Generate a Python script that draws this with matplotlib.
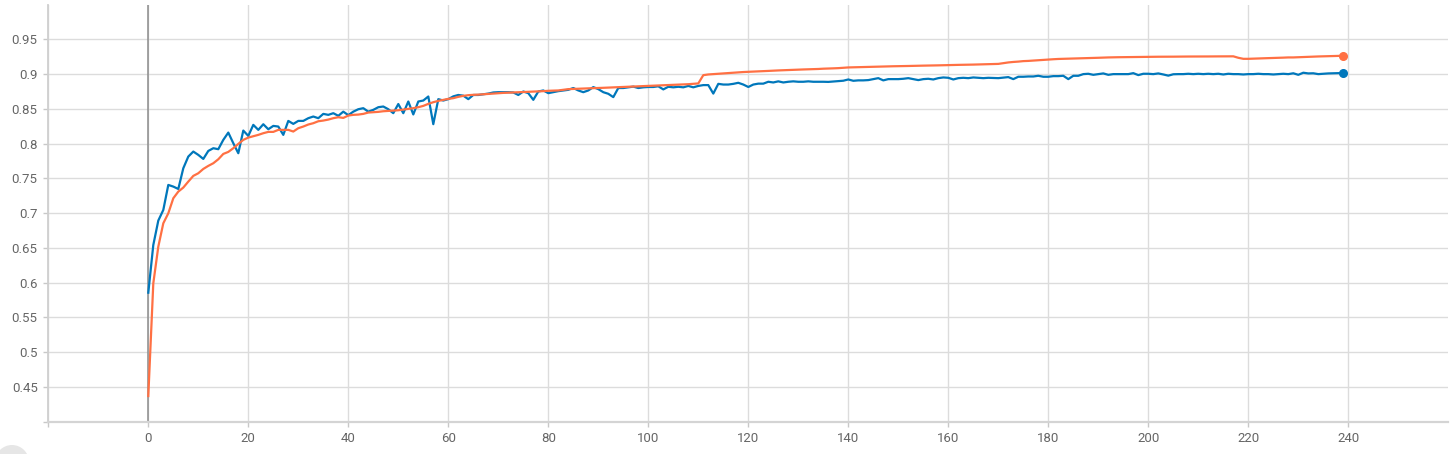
import matplotlib
matplotlib.use("Agg")
import matplotlib.pyplot as plt
from matplotlib.patches import Ellipse

epochs = list(range(240))

blue_values = [
    0.5856, 0.6542, 0.6893, 0.7046, 0.7406, 0.7382, 0.7348, 0.7646, 0.7814, 0.7886,
    0.7838, 0.778, 0.7895, 0.7934, 0.792, 0.8054, 0.8159, 0.8006, 0.7862, 0.8188,
    0.8111, 0.827, 0.8198, 0.8279, 0.8207, 0.8255, 0.8246, 0.8126, 0.8327, 0.8284,
    0.8327, 0.8327, 0.8366, 0.839, 0.8366, 0.8428, 0.8414, 0.8438, 0.840, 0.846,
    0.841, 0.846, 0.8495, 0.851, 0.846, 0.8486, 0.8524, 0.8534, 0.8495, 0.8438,
    0.857, 0.8438, 0.8606, 0.842, 0.8606, 0.862, 0.8678, 0.828, 0.864, 0.862,
    0.864, 0.868, 0.870, 0.869, 0.864, 0.870, 0.870, 0.871, 0.872, 0.8736,
    0.874, 0.874, 0.874, 0.8736, 0.870, 0.875, 0.8726, 0.863, 0.875, 0.8765,
    0.8726, 0.874, 0.8755, 0.8765, 0.8774, 0.880, 0.8765, 0.874, 0.8765, 0.8813,
    0.8784, 0.874, 0.8717, 0.8669, 0.880, 0.880, 0.881, 0.882, 0.880, 0.881,
    0.8815, 0.8815, 0.8825, 0.878, 0.8818, 0.881, 0.8818, 0.881, 0.883, 0.881,
    0.883, 0.8842, 0.8842, 0.872, 0.886, 0.885, 0.885, 0.886, 0.8875, 0.885,
    0.8815, 0.885, 0.8863, 0.8863, 0.889, 0.888, 0.8896, 0.888, 0.889, 0.8896,
    0.889, 0.889, 0.8896, 0.889, 0.889, 0.889, 0.8888, 0.8894, 0.890, 0.8905,
    0.8923, 0.8904, 0.891, 0.891, 0.8914, 0.8928, 0.8942, 0.891, 0.8928, 0.8928,
    0.8928, 0.8933, 0.8942, 0.8928, 0.8914, 0.8928, 0.8933, 0.8923, 0.8942, 0.8952,
    0.8947, 0.8923, 0.8942, 0.8947, 0.8942, 0.8952, 0.8947, 0.8942, 0.8947, 0.8945,
    0.8942, 0.895, 0.8957, 0.8928, 0.8962, 0.8962, 0.8966, 0.8966, 0.8976, 0.8962,
    0.8962, 0.8971, 0.8971, 0.8976, 0.8928, 0.8976, 0.8976, 0.900, 0.9005, 0.899,
    0.900, 0.901, 0.899, 0.900, 0.900, 0.900, 0.900, 0.9014, 0.8986, 0.9005,
    0.9005, 0.900, 0.901, 0.8995, 0.8978, 0.8998, 0.900, 0.900, 0.9005, 0.900,
    0.9005, 0.900, 0.9005, 0.900, 0.9005, 0.8995, 0.9005, 0.900, 0.900, 0.8995,
    0.900, 0.900, 0.9005, 0.900, 0.900, 0.8995, 0.900, 0.9005, 0.900, 0.9012,
    0.899, 0.902, 0.901, 0.9012, 0.900, 0.9005, 0.901, 0.9012, 0.9014, 0.9014,
]

orange_values = [
    0.4369, 0.599, 0.6518, 0.6854, 0.6998, 0.7214, 0.731, 0.7368, 0.7454, 0.7536,
    0.7574, 0.7636, 0.768, 0.7718, 0.7775, 0.7852, 0.7881, 0.7934, 0.7996, 0.8054,
    0.8087, 0.8107, 0.8126, 0.815, 0.8169, 0.8169, 0.8198, 0.8198, 0.8198, 0.8174,
    0.8222, 0.8246, 0.8275, 0.8294, 0.8322, 0.8332, 0.8346, 0.8366, 0.838, 0.837,
    0.8404, 0.8414, 0.8418, 0.8428, 0.8447, 0.8452, 0.8457, 0.8466, 0.8471, 0.8476,
    0.848, 0.849, 0.850, 0.851, 0.8524, 0.8543, 0.8572, 0.8596, 0.8615, 0.863,
    0.8644, 0.8654, 0.8673, 0.8687, 0.8697, 0.8702, 0.8705, 0.871, 0.8715, 0.872,
    0.8726, 0.873, 0.8733, 0.8737, 0.874, 0.8743, 0.8746, 0.8748, 0.875, 0.8755,
    0.876, 0.8763, 0.8765, 0.8775, 0.8784, 0.8787, 0.879, 0.8793, 0.8796, 0.8798,
    0.880, 0.8803, 0.8806, 0.881, 0.8813, 0.8816, 0.8819, 0.8822, 0.8825, 0.8827,
    0.883, 0.8833, 0.8836, 0.884, 0.8842, 0.8845, 0.8848, 0.885, 0.8855, 0.886,
    0.8866, 0.8985, 0.8995, 0.900, 0.9005, 0.901, 0.9015, 0.902, 0.9025, 0.903,
    0.9033, 0.9036, 0.904, 0.9043, 0.9046, 0.905, 0.9053, 0.9056, 0.9059, 0.9062,
    0.9065, 0.9067, 0.9069, 0.9071, 0.9074, 0.9078, 0.908, 0.9083, 0.9086, 0.9091,
    0.9096, 0.9098, 0.910, 0.9102, 0.9104, 0.9106, 0.9108, 0.911, 0.9111, 0.9113,
    0.9114, 0.9116, 0.9117, 0.9119, 0.912, 0.9122, 0.9123, 0.9125, 0.9126, 0.9128,
    0.913, 0.9131, 0.9133, 0.9134, 0.9136, 0.9137, 0.9139, 0.914, 0.9142, 0.9144,
    0.9147, 0.9158, 0.9168, 0.9175, 0.918, 0.9187, 0.919, 0.9195, 0.920, 0.9205,
    0.921, 0.9214, 0.9218, 0.922, 0.9222, 0.9225, 0.9227, 0.9229, 0.923, 0.9232,
    0.9235, 0.9238, 0.924, 0.9242, 0.9243, 0.9244, 0.9245, 0.9246, 0.9247, 0.9248,
    0.9248, 0.9249, 0.925, 0.925, 0.9251, 0.9251, 0.9252, 0.9252, 0.9253, 0.9253,
    0.9254, 0.9254, 0.9254, 0.9255, 0.9255, 0.9255, 0.9256, 0.9256, 0.9235, 0.922,
    0.922, 0.9222, 0.9225, 0.9228, 0.923, 0.9232, 0.9235, 0.9237, 0.924, 0.924,
    0.9243, 0.9246, 0.925, 0.9252, 0.9254, 0.9256, 0.9258, 0.926, 0.9262, 0.9264,
]

x_ticks = [-20, 0, 20, 40, 60, 80, 100, 120, 140, 160, 180, 200, 220, 240]
x_tick_labels = ["", "0", "20", "40", "60", "80", "100", "120", "140", "160",
                 "180", "200", "220", "240"]
y_ticks = [0.4, 0.45, 0.5, 0.55, 0.6, 0.65, 0.7, 0.75, 0.8, 0.85, 0.9, 0.95]
y_tick_labels = ["", "0.45", "0.5", "0.55", "0.6", "0.65", "0.7", "0.75",
                 "0.8", "0.85", "0.9", "0.95"]

BLUE = "#0077bb"
ORANGE = "#ff7043"
GRID = "#dcdcdc"
TEXT = "#666666"

W, H = 1454, 454
fig = plt.figure(figsize=(W / 100, H / 100), dpi=100)
fig.patch.set_facecolor("white")
left_px, right_px, top_px, bottom_px = 48.3, 1448.3, 4.6, 421.7
ax = fig.add_axes([left_px / W, (H - bottom_px) / H,
                   (right_px - left_px) / W, (bottom_px - top_px) / H])

ax.set_xlim(-20, 260)
ax.set_ylim(0.4, 1.0)

ax.set_xticks(x_ticks)
ax.set_xticklabels(x_tick_labels)
ax.set_yticks(y_ticks)
ax.set_yticklabels(y_tick_labels)

ax.grid(True, color=GRID, linewidth=1.0, zorder=0)
ax.set_axisbelow(True)

for side in ["top", "right"]:
    ax.spines[side].set_visible(False)
ax.spines["left"].set_color("#cfcfcf")
ax.spines["left"].set_linewidth(1.3)
ax.spines["bottom"].set_color("#d4d4d4")
ax.spines["bottom"].set_linewidth(1.6)

ax.axvline(0, color="#8c8c8c", linewidth=1.1, zorder=1)

ax.tick_params(axis="both", colors="#c8c8c8", labelcolor=TEXT, length=3.6,
               width=1.0, labelsize=9.5, pad=4)
for lab in ax.get_xticklabels() + ax.get_yticklabels():
    lab.set_fontfamily("Roboto")

ax.plot(epochs, blue_values, color=BLUE, linewidth=1.6, zorder=3,
        solid_joinstyle="round")
ax.plot(epochs, orange_values, color=ORANGE, linewidth=1.6, zorder=4,
        solid_joinstyle="round")
ax.plot([epochs[-1]], [blue_values[-1]], "o", color=BLUE, markersize=5.5, zorder=5)
ax.plot([epochs[-1]], [orange_values[-1]], "o", color=ORANGE, markersize=5.5, zorder=5)

# light grey circle partially visible in bottom-left corner
fig.patches.append(Ellipse((12 / W, (H - 462) / H), 34 / W, 34 / H,
                           transform=fig.transFigure, facecolor="#e6e6e6",
                           edgecolor="none", zorder=0))

fig.savefig("out.png", dpi=100, facecolor="white")
